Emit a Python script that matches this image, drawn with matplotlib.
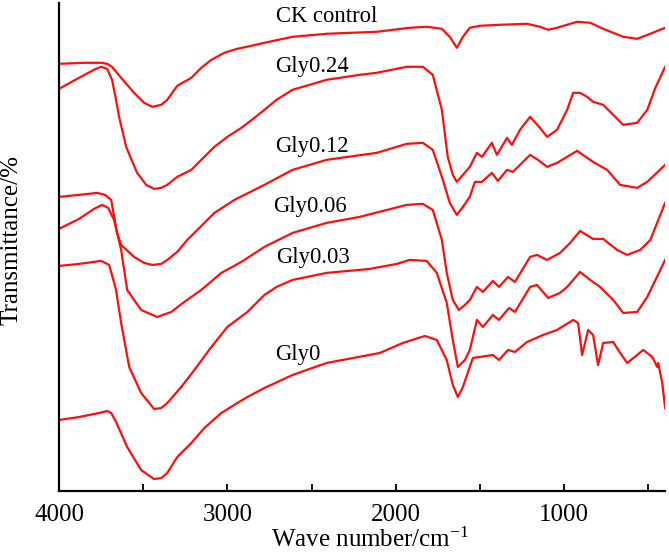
import matplotlib
matplotlib.use("Agg")
import matplotlib.pyplot as plt
from matplotlib.ticker import FixedLocator

plt.rcParams['font.family'] = ['Liberation Serif', 'DejaVu Serif']
plt.rcParams['mathtext.fontset'] = 'custom'
plt.rcParams['mathtext.rm'] = 'Liberation Serif'
plt.rcParams['mathtext.it'] = 'Liberation Serif:italic'

# ---- data (wavenumber cm^-1, relative transmittance, offset stacked) ----
ck_wn = [4000, 3851, 3750, 3714, 3685, 3631, 3554, 3494, 3446, 3393, 3357, 3298, 3214, 3155, 3095,
         3018, 2941, 2857, 2780, 2613, 2411, 2113, 1917, 1816, 1726, 1679, 1637, 1601, 1560, 1500,
         1381, 1220, 1143, 1095, 1042, 923, 845, 768, 649, 566, 488, 400]
ck_t = [427, 428, 428, 427, 424, 413, 398, 388, 384, 386, 391, 405, 413, 423, 431,
        438, 442, 445, 448, 454, 457, 459, 463, 464, 462, 454, 443, 454, 463, 465,
        466, 467, 464, 461, 463, 469, 468, 462, 454, 452, 457, 463]

g24_wn = [4000, 3881, 3792, 3750, 3714, 3685, 3661, 3643, 3601, 3536, 3482, 3435, 3393, 3357, 3298,
          3214, 3155, 3077, 3000, 2917, 2839, 2780, 2708, 2613, 2411, 2214, 2113, 1935, 1839, 1780,
          1726, 1691, 1661, 1637, 1601, 1560, 1518, 1488, 1429, 1399, 1339, 1310, 1262, 1202, 1143,
          1101, 1042, 982, 946, 905, 863, 828, 768, 708, 649, 566, 506, 458, 400]
g24_t = [402, 413, 421, 424, 422, 411, 391, 374, 344, 318, 306, 302, 303, 306, 314,
         321, 331, 344, 354, 363, 373, 381, 391, 401, 411, 416, 418, 424, 424, 416,
         381, 334, 316, 309, 316, 324, 338, 334, 348, 336, 353, 346, 361, 374, 363,
         354, 361, 381, 398, 398, 394, 389, 386, 376, 366, 368, 381, 403, 424]

g12_wn = [4000, 3881, 3774, 3726, 3690, 3655, 3631, 3554, 3494, 3446, 3393, 3357, 3298, 3238, 3196,
          3077, 2958, 2839, 2780, 2613, 2411, 2113, 1935, 1839, 1780, 1720, 1679, 1637, 1601, 1560,
          1530, 1488, 1429, 1393, 1339, 1304, 1202, 1155, 1101, 1042, 982, 923, 828, 744, 667,
          566, 506, 400]
g12_t = [294, 296, 298, 296, 291, 258, 246, 234, 228, 226, 227, 231, 239, 251, 258,
         278, 291, 301, 306, 321, 331, 338, 347, 348, 341, 311, 288, 276, 284, 294,
         309, 309, 318, 310, 321, 319, 336, 331, 324, 328, 334, 340, 329, 321, 306,
         303, 309, 326]

g06_wn = [4000, 3881, 3792, 3744, 3708, 3673, 3631, 3595, 3512, 3417, 3333, 3256, 3155, 3036, 2917,
          2780, 2613, 2411, 2214, 1935, 1839, 1780, 1726, 1697, 1661, 1625, 1589, 1560, 1518, 1482,
          1423, 1387, 1333, 1292, 1202, 1161, 1101, 1024, 964, 905, 828, 768, 685, 625, 548,
          488, 400]
g06_t = [262, 272, 282, 286, 283, 271, 241, 201, 181, 174, 179, 189, 201, 218, 229,
         244, 258, 268, 274, 286, 287, 281, 251, 218, 191, 181, 186, 191, 204, 199,
         210, 204, 214, 209, 234, 236, 231, 238, 248, 260, 252, 252, 241, 236, 241,
         251, 288]

g03_wn = [4000, 3881, 3750, 3702, 3661, 3631, 3583, 3512, 3435, 3393, 3357, 3274, 3196, 3095, 3000,
          2881, 2780, 2708, 2613, 2411, 2155, 1994, 1917, 1816, 1756, 1697, 1661, 1631, 1589, 1560,
          1518, 1482, 1423, 1387, 1327, 1292, 1202, 1161, 1095, 1024, 982, 905, 845, 786, 708,
          649, 566, 506, 400]
g03_t = [225, 227, 230, 226, 201, 168, 124, 98, 82, 83, 88, 104, 121, 144, 164,
         179, 196, 204, 211, 218, 222, 227, 231, 230, 218, 188, 151, 124, 131, 141,
         171, 164, 176, 171, 183, 179, 204, 206, 193, 198, 204, 219, 211, 204, 191,
         178, 179, 194, 231]

g0_wn = [4000, 3881, 3762, 3714, 3690, 3661, 3595, 3512, 3435, 3393, 3357, 3298, 3214, 3137, 3036,
         2941, 2881, 2780, 2613, 2411, 2095, 1958, 1827, 1756, 1697, 1661, 1631, 1601, 1542, 1500,
         1423, 1387, 1333, 1292, 1220, 1125, 1042, 946, 917, 893, 857, 828, 798, 768, 708,
         667, 625, 530, 476, 447, 441, 417, 400]
g0_t = [71, 74, 78, 80, 78, 69, 44, 21, 12, 13, 18, 34, 48, 63, 78,
        88, 94, 103, 116, 128, 138, 148, 155, 151, 131, 106, 94, 104, 133, 134,
        136, 131, 141, 139, 149, 156, 161, 171, 168, 136, 161, 156, 126, 148, 149,
        138, 128, 141, 134, 124, 128, 108, 83]

labels = ["CK control", "Gly0.24", "Gly0.12", "Gly0.06", "Gly0.03", "Gly0"]
label_wn = [2714, 2714, 2714, 2726, 2708, 2714]
label_t = [474, 424, 344, 284, 233, 136]

x_major = [4000, 3000, 2000, 1000]
x_minor = [3500, 2500, 1500, 500]

# ---- figure ----
fig = plt.figure(figsize=(6.69, 5.53), dpi=100)
ax = fig.add_axes([0.0882, 0.112, 0.906, 0.883])

series = [(ck_wn, ck_t), (g24_wn, g24_t), (g12_wn, g12_t),
          (g06_wn, g06_t), (g03_wn, g03_t), (g0_wn, g0_t)]
for wn, t in series:
    ax.plot(wn, t, color='#ff0d0d', lw=1.6, solid_joinstyle='round')

for lab, xw, yt in zip(labels, label_wn, label_t):
    ax.text(xw, yt, lab, fontsize=16.3, ha='left', va='center', color='black')

ax.set_xlim(4000, 400)
ax.set_ylim(0, 488)
ax.xaxis.set_major_locator(FixedLocator(x_major))
ax.xaxis.set_minor_locator(FixedLocator(x_minor))
ax.tick_params(axis='x', which='both', direction='in', length=5, width=1.3,
               labelsize=18, pad=9)
ax.set_yticks([])
for s in ['top', 'right']:
    ax.spines[s].set_visible(False)
for s in ['left', 'bottom']:
    ax.spines[s].set_linewidth(1.6)

ax.set_xlabel("Wave number/cm$^{-1}$", fontsize=18, labelpad=0)
ax.xaxis.set_label_coords(0.513, -0.075)
ax.set_ylabel("Transmittance/%", fontsize=18)
ax.yaxis.set_label_coords(-0.061, 0.514)

fig.savefig("out.png", dpi=100)
